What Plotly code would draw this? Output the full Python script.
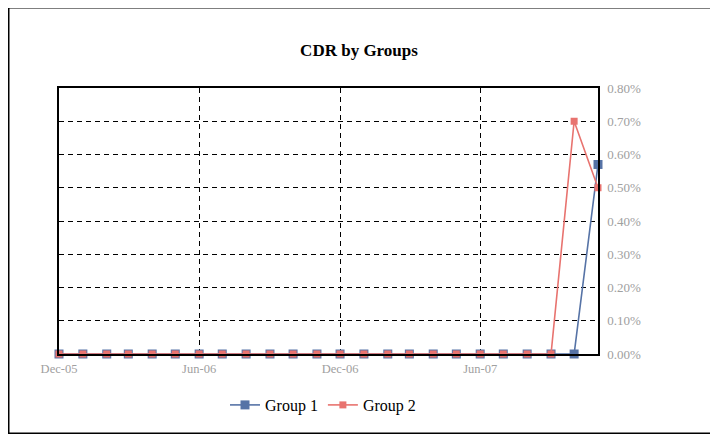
import plotly.graph_objects as go

months = ["2005-12-01", "2006-01-01", "2006-02-01", "2006-03-01", "2006-04-01", "2006-05-01",
          "2006-06-01", "2006-07-01", "2006-08-01", "2006-09-01", "2006-10-01", "2006-11-01",
          "2006-12-01", "2007-01-01", "2007-02-01", "2007-03-01", "2007-04-01", "2007-05-01",
          "2007-06-01", "2007-07-01", "2007-08-01", "2007-09-01", "2007-10-01", "2007-11-01"]
group1 = [0, 0, 0, 0, 0, 0, 0, 0, 0, 0, 0, 0,
          0, 0, 0, 0, 0, 0, 0, 0, 0, 0, 0, 0.0057]
group2 = [0, 0, 0, 0, 0, 0, 0, 0, 0, 0, 0, 0,
          0, 0, 0, 0, 0, 0, 0, 0, 0, 0, 0.0070, 0.0050]
y_ticks = [0, 0.001, 0.002, 0.003, 0.004, 0.005, 0.006, 0.007, 0.008]

BLUE = "#5673A6"
RED = "#E8736F"
FONT = "Liberation Serif"

W, H = 708, 426
L, R, T, B = 51, 118, 80, 80
PW, PH = W - L - R, H - T - B

fig = go.Figure()
fig.add_trace(go.Scatter(x=months, y=group1, name="Group 1", mode="lines+markers",
                         line=dict(color=BLUE, width=1.6),
                         marker=dict(symbol="square", size=9, color=BLUE),
                         cliponaxis=False))
fig.add_trace(go.Scatter(x=months, y=group2, name="Group 2", mode="lines+markers",
                         line=dict(color=RED, width=1.6),
                         marker=dict(symbol="square", size=7, color=RED),
                         cliponaxis=False))

fig.update_layout(
    width=W, height=H,
    margin=dict(l=L, r=R, t=T, b=B),
    paper_bgcolor="white", plot_bgcolor="white",
    font=dict(family=FONT, color="black"),
    title=dict(text="<b>CDR by Groups</b>", x=(351 - L) / PW, xref="paper", xanchor="center",
               y=1 - 42 / H, yanchor="middle", font=dict(size=17, family=FONT)),
    showlegend=True,
    legend=dict(orientation="h", x=(315 - L) / PW, xref="paper", xanchor="center",
                y=-(397 - (H - B)) / PH, yanchor="middle", font=dict(size=16, family=FONT),
                tracegroupgap=0),
    xaxis=dict(type="date", range=["2005-12-01", "2007-11-01"],
               tick0="2005-12-01", dtick="M6", tickformat="%b-%y",
               showgrid=True, gridcolor="black", griddash="5px,4px", gridwidth=1.4,
               showline=True, linecolor="black", linewidth=1.5, mirror=True,
               ticks="", tickfont=dict(size=12.5, color="#a0a0a0", family=FONT),
               ticklabelstandoff=2, zeroline=False),
    yaxis=dict(side="right", range=[0, 0.008], tickvals=y_ticks, tickformat=".2%",
               showgrid=True, gridcolor="black", griddash="5px,4px", gridwidth=1.4,
               showline=True, linecolor="black", linewidth=1.5, mirror=True,
               ticks="", ticklabelstandoff=5,
               tickfont=dict(size=13, color="#a0a0a0", family=FONT),
               zeroline=False),
    shapes=[dict(type="rect", xref="paper", yref="paper",
                 x0=(0.75 - L) / PW, x1=(707.25 - L) / PW,
                 y0=-(425.25 - (H - B)) / PH, y1=(H - B + 0.25) / PH,
                 line=dict(color="black", width=1.5), fillcolor="rgba(0,0,0,0)",
                 layer="below")],
)

fig.write_html("out.html")
